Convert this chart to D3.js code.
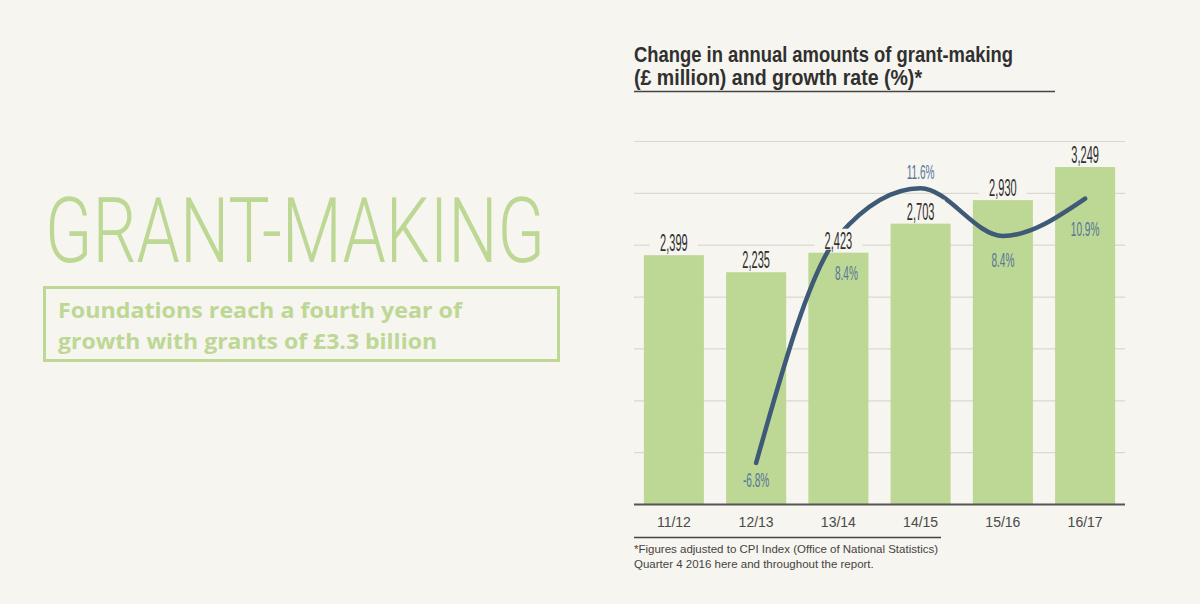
<!DOCTYPE html>
<html><head><meta charset="utf-8">
<script src="https://cdn.jsdelivr.net/npm/d3@7/dist/d3.min.js"></script>
<style>
html,body{margin:0;padding:0;background:#f6f5ef;}
svg{display:block;}
</style></head>
<body>
<svg id="chart" width="1200" height="604"></svg>
<script>
// ---- data ----
const categories = ["11/12","12/13","13/14","14/15","15/16","16/17"];
const amounts = [2399, 2235, 2423, 2703, 2930, 3249];
const growthCategories = ["12/13","13/14","14/15","15/16","16/17"];
const growthRates = [-6.8, 8.4, 11.6, 8.4, 10.9];
const gridTicks = [0,500,1000,1500,2000,2500,3000,3500];
const titleLines = ["Change in annual amounts of grant-making","(£ million) and growth rate (%)*"];
const footnoteLines = ["*Figures adjusted to CPI Index (Office of National Statistics)","Quarter 4 2016 here and throughout the report."];
const headline = "GRANT-MAKING";
const sublines = ["Foundations reach a fourth year of","growth with grants of £3.3 billion"];

// ---- styles ----
const BG = "#f6f5ef", GREEN = "#bdd795", LINE = "#3e5a76", PCT = "#56769a", DARK = "#303030";
const svg = d3.select("#chart");
svg.append("rect").attr("width",1200).attr("height",604).attr("fill",BG);

const x = d3.scaleBand().domain(categories).range([634,1125]).paddingInner(0.27).paddingOuter(0.12);
const y = d3.scaleLinear().domain([0,3500]).range([504,141]);
const y2 = d3.scaleLinear().domain([-9.55,14.76]).range([504,141]);

// left side
svg.append("text").attr("x",45).attr("y",262).text(headline)
  .attr("font-family","Roboto, 'Liberation Sans', sans-serif").attr("font-weight",300)
  .attr("font-size",91).attr("fill",GREEN)
  .attr("textLength",500).attr("lengthAdjust","spacingAndGlyphs");
svg.append("rect").attr("x",44.5).attr("y",287.5).attr("width",514).attr("height",73)
  .attr("fill","none").attr("stroke",GREEN).attr("stroke-width",3);
const subW = [404, 379];
sublines.forEach((s,i)=>{
  svg.append("text").attr("x",58).attr("y",318+i*31).text(s)
    .attr("font-family","'Open Sans', sans-serif").attr("font-weight",700)
    .attr("font-size",21).attr("fill",GREEN)
    .attr("textLength",subW[i]).attr("lengthAdjust","spacingAndGlyphs");
});

// title
const titleW = [379, 288];
titleLines.forEach((t,i)=>{
  svg.append("text").attr("x",634).attr("y",62+i*23).text(t)
    .attr("font-family","'Liberation Sans', Arial, sans-serif").attr("font-weight",700)
    .attr("font-size",21.5).attr("fill",DARK)
    .attr("textLength",titleW[i]).attr("lengthAdjust","spacingAndGlyphs");
});
svg.append("line").attr("x1",634).attr("x2",1055).attr("y1",91.5).attr("y2",91.5)
  .attr("stroke","#444").attr("stroke-width",1.5);

// gridlines
svg.append("g").selectAll("line").data(gridTicks.filter(d=>d>0)).join("line")
  .attr("x1",634).attr("x2",1125).attr("y1",d=>y(d)+0.5).attr("y2",d=>y(d)+0.5)
  .attr("stroke","#d9d9d2").attr("stroke-width",1.2);

// bars
svg.append("g").selectAll("rect").data(amounts).join("rect")
  .attr("x",(d,i)=>x(categories[i])).attr("width",x.bandwidth())
  .attr("y",d=>y(d)).attr("height",d=>y(0)-y(d)).attr("fill",GREEN);

// baseline axis
svg.append("line").attr("x1",634).attr("x2",1125).attr("y1",y(0)+0.5).attr("y2",y(0)+0.5)
  .attr("stroke","#555").attr("stroke-width",2);
const xAxis = svg.append("g").attr("transform",`translate(0,${y(0)})`)
  .call(d3.axisBottom(x).tickSize(0).tickPadding(10));
xAxis.select(".domain").remove();
xAxis.selectAll("text").attr("font-family","'Liberation Sans', Arial, sans-serif")
  .attr("font-size",14).attr("fill","#4a4a4a").attr("dy","0.9em");

// growth line
const pts = growthRates.map((v,i)=>[x(growthCategories[i])+x.bandwidth()/2, y2(v)]);
svg.append("path").attr("d",d3.line().curve(d3.curveMonotoneX)(pts))
  .attr("fill","none").attr("stroke",LINE).attr("stroke-width",4.5).attr("stroke-linecap","round");
const pctOffsets = [[0,24],[8,44],[0,-9],[0,31],[0,37]];
growthRates.forEach((v,i)=>{
  const [px,py] = pts[i];
  svg.append("text").attr("transform",`translate(${px+pctOffsets[i][0]},${py+pctOffsets[i][1]}) scale(0.48,1)`)
    .attr("text-anchor","middle").attr("font-family","'Liberation Sans', Arial, sans-serif")
    .attr("font-size",21).attr("fill",PCT).text(d3.format(".1f")(v).replace("\u2212","-")+"%");
});

// value labels with background boxes (drawn over the line)
const vl = svg.append("g");
amounts.forEach((d,i)=>{
  const cx = x(categories[i]) + x.bandwidth()/2;
  vl.append("rect").attr("x",cx-24).attr("y",y(d)-24).attr("width",48).attr("height",21).attr("fill",BG);
  vl.append("text").attr("transform",`translate(${cx},${y(d)-4}) scale(0.48,1)`)
    .attr("text-anchor","middle").attr("font-family","'Liberation Sans', Arial, sans-serif")
    .attr("font-size",23).attr("fill",DARK).text(d3.format(",")(d));
});

// footnote
svg.append("line").attr("x1",634).attr("x2",941).attr("y1",537.5).attr("y2",537.5)
  .attr("stroke","#444").attr("stroke-width",1.5);
footnoteLines.forEach((t,i)=>{
  svg.append("text").attr("x",634).attr("y",553+i*15).text(t)
    .attr("font-family","'Liberation Sans', Arial, sans-serif").attr("font-size",11.5).attr("fill","#444");
});
</script>
</body></html>
